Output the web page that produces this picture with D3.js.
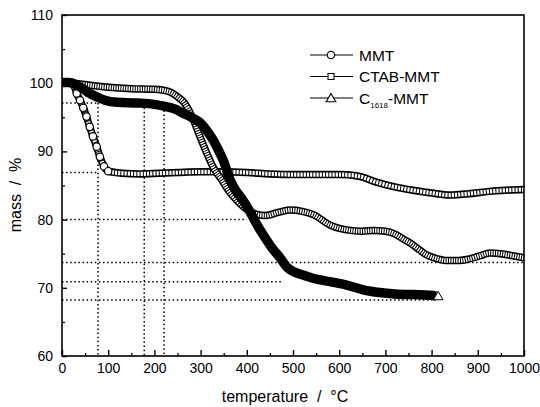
<!DOCTYPE html>
<html>
<head>
<meta charset="utf-8">
<script src="https://cdn.jsdelivr.net/npm/d3@7"></script>
<style>
  body { margin: 0; background: #fff; }
  #chart { width: 540px; height: 407px; }
  text { font-family: "Liberation Sans", Arial, sans-serif; fill: #000; }
</style>
</head>
<body>
<div id="chart"></div>
<script>
// temperature (°C) and mass (%)
const mmtTemp = [27, 32, 39, 46, 53, 60, 67, 75, 82, 91, 100, 130, 170, 210, 250, 300, 350, 400, 450, 500, 550, 600, 640, 680, 720, 760, 800, 840, 880, 920, 960, 1000];
const mmtMass = [99.6, 98.5, 97.5, 96.4, 95.1, 93.6, 92.2, 90.7, 89.2, 87.8, 87.1, 86.8, 86.7, 86.8, 86.9, 87.0, 87.0, 86.9, 86.7, 86.6, 86.6, 86.6, 86.4, 85.5, 84.8, 84.3, 83.9, 83.6, 83.8, 84.1, 84.3, 84.4];

const ctabTemp = [20, 40, 60, 100, 150, 200, 230, 250, 265, 280, 299, 313, 327, 346, 360, 380, 400, 420, 440, 470, 495, 520, 545, 580, 616, 650, 675, 700, 720, 740, 755, 775, 790, 810, 830, 860, 880, 905, 926, 950, 975, 1000];
const ctabMass = [100, 99.9, 99.7, 99.4, 99.2, 99.1, 98.8, 98.0, 97.1, 95.3, 92.1, 89.8, 87.7, 85.8, 84.3, 82.7, 81.5, 80.8, 80.6, 81.1, 81.4, 81.2, 80.7, 79.2, 78.5, 78.3, 78.4, 78.3, 77.9, 77.1, 76.5, 75.5, 74.8, 74.3, 74.0, 74.0, 74.2, 74.7, 75.1, 75.0, 74.7, 74.4];

const c1618Temp = [0, 15, 30, 45, 60, 75, 93, 120, 165, 200, 223, 245, 262, 280, 299, 313, 327, 340, 349, 364, 375, 390, 405, 420, 440, 455, 472, 486, 500, 520, 543, 580, 616, 652, 688, 720, 760, 797, 810];
const c1618Mass = [100.1, 100.1, 99.8, 99.2, 98.5, 98.0, 97.5, 97.2, 97.1, 96.9, 96.6, 96.2, 95.6, 95.0, 94.2, 93.1, 91.7, 90.0, 88.7, 85.8, 84.4, 83.0, 81.4, 79.5, 77.3, 75.8, 74.4, 73.1, 72.4, 71.9, 71.4, 70.9, 70.4, 69.7, 69.3, 69.1, 69.0, 68.9, 68.8];

// dotted guide lines: [mass, fromTemp, toTemp] and [temp, fromMass]
const guideH = [[97.1, 0, 78], [86.9, 0, 78], [80, 0, 400], [73.7, 0, 1000], [70.9, 0, 475], [68.2, 0, 800]];
const guideV = [[78, 97.1], [178, 97.0], [221, 96.6]];

const xTicks = [0, 100, 200, 300, 400, 500, 600, 700, 800, 900, 1000];
const yTicks = [60, 70, 80, 90, 100, 110];
const legendLabels = ["MMT", "CTAB-MMT", "C1618-MMT"];

function zip(t, m) { return t.map((d, i) => ({t: d, m: m[i]})); }

function renderTGA(selector) {
    const margin = {top: 15, right: 16, bottom: 51, left: 62};
    const W = 540, H = 407;
    const width = W - margin.left - margin.right;
    const height = H - margin.top - margin.bottom;

    const svg = d3.select(selector).append("svg")
        .attr("width", W)
        .attr("height", H)
        .append("g")
        .attr("transform", `translate(${margin.left}, ${margin.top})`);

    const x = d3.scaleLinear().domain([0, 1000]).range([0, width]);
    const y = d3.scaleLinear().domain([60, 110]).range([height, 0]);

    // minor ticks
    svg.append("g")
        .attr("transform", `translate(0, ${height})`)
        .call(d3.axisBottom(x).tickValues(d3.range(50, 1000, 100)).tickSize(-3).tickFormat(""))
        .call(g => g.select(".domain").remove())
        .selectAll("line").attr("stroke-width", 1.3);
    svg.append("g")
        .call(d3.axisLeft(y).tickValues(d3.range(65, 110, 10)).tickSize(-3).tickFormat(""))
        .call(g => g.select(".domain").remove())
        .selectAll("line").attr("stroke-width", 1.3);

    // major ticks
    svg.append("g")
        .attr("class", "axis axis-x")
        .attr("transform", `translate(0, ${height})`)
        .call(d3.axisBottom(x).tickValues(xTicks).tickSize(-6).tickPadding(7).tickFormat(d3.format("d")))
        .call(g => g.select(".domain").remove())
        .call(g => g.selectAll("line").attr("stroke-width", 1.4))
        .call(g => g.selectAll("text").attr("font-size", 14).attr("font-family", "Liberation Sans, Arial"));
    svg.append("g")
        .attr("class", "axis axis-y")
        .call(d3.axisLeft(y).tickValues(yTicks).tickSize(-5).tickPadding(9))
        .call(g => g.select(".domain").remove())
        .call(g => g.selectAll("line").attr("stroke-width", 1.4))
        .call(g => g.selectAll("text").attr("font-size", 14).attr("font-family", "Liberation Sans, Arial"));

    // dotted guides
    svg.selectAll(".guide-h")
        .data(guideH)
        .enter()
        .append("line")
        .attr("x1", d => x(d[1])).attr("x2", d => x(d[2]))
        .attr("y1", d => y(d[0])).attr("y2", d => y(d[0]))
        .attr("stroke", "#000").attr("stroke-width", 1.5)
        .attr("stroke-dasharray", "1.5,2.6");
    svg.selectAll(".guide-v")
        .data(guideV)
        .enter()
        .append("line")
        .attr("x1", d => x(d[0])).attr("x2", d => x(d[0]))
        .attr("y1", d => y(d[1])).attr("y2", y(60))
        .attr("stroke", "#000").attr("stroke-width", 1.5)
        .attr("stroke-dasharray", "1.5,2.6");

    const line = d3.line()
        .x(d => x(d.t))
        .y(d => y(d.m))
        .curve(d3.curveMonotoneX);

    const mmt = zip(mmtTemp, mmtMass);
    const ctab = zip(ctabTemp, ctabMass);
    const c1618 = zip(c1618Temp, c1618Mass);

    // MMT: packed open circles
    svg.append("path").datum(mmt).attr("d", line)
        .attr("fill", "none").attr("stroke", "#000").attr("stroke-width", 7.5);
    svg.append("path").datum(mmt).attr("d", line)
        .attr("fill", "none").attr("stroke", "#fff").attr("stroke-width", 4.2)
        .attr("stroke-dasharray", "2.2,1");
    svg.selectAll(".dot-mmt")
        .data(mmt.slice(0, 11))
        .enter()
        .append("circle")
        .attr("cx", d => x(d.t)).attr("cy", d => y(d.m)).attr("r", 3.7)
        .attr("fill", "#fff").attr("stroke", "#000").attr("stroke-width", 1.2);

    // CTAB-MMT: packed open squares
    svg.append("path").datum(ctab).attr("d", line)
        .attr("fill", "none").attr("stroke", "#000").attr("stroke-width", 7.5);
    svg.append("path").datum(ctab).attr("d", line)
        .attr("fill", "none").attr("stroke", "#fff").attr("stroke-width", 4.5)
        .attr("stroke-dasharray", "1.4,1");

    // C1618-MMT: triangles so dense they read as a solid band
    svg.append("path").datum(c1618).attr("d", line)
        .attr("fill", "none").attr("stroke", "#000").attr("stroke-width", 9.5);
    const tri = d3.symbol().type(d3.symbolTriangle).size(40);
    const last = c1618[c1618.length - 1];
    svg.append("path")
        .attr("d", tri())
        .attr("transform", `translate(${x(last.t) + 2}, ${y(last.m) + 1})`)
        .attr("fill", "#fff").attr("stroke", "#000").attr("stroke-width", 1);

    // frame
    svg.append("rect")
        .attr("width", width).attr("height", height)
        .attr("fill", "none").attr("stroke", "#000").attr("stroke-width", 1.6);

    // legend
    const legend = svg.append("g").attr("transform", `translate(${310 - margin.left}, ${55 - margin.top})`);
    const symbols = [
        d3.symbol().type(d3.symbolCircle).size(45),
        d3.symbol().type(d3.symbolSquare).size(36),
        d3.symbol().type(d3.symbolTriangle).size(40)
    ];
    legendLabels.forEach((lab, i) => {
        const g = legend.append("g").attr("transform", `translate(0, ${i * 21.5})`);
        g.append("line").attr("x1", 0).attr("x2", 43).attr("y1", 0).attr("y2", 0)
            .attr("stroke", "#000").attr("stroke-width", 1.1);
        g.append("path").attr("d", symbols[i]()).attr("transform", `translate(21, ${i === 2 ? 1 : 0})`)
            .attr("fill", "#fff").attr("stroke", "#000").attr("stroke-width", 1.1);
        const t = g.append("text").attr("x", 49).attr("y", 5.5).attr("font-size", 15.5);
        if (i === 2) {
            t.append("tspan").text("C");
            t.append("tspan").attr("font-size", 8).attr("dy", 4).text("1618");
            t.append("tspan").attr("dy", -4).text("-MMT");
        } else {
            t.text(lab);
        }
    });

    // axis titles
    svg.append("text")
        .attr("x", 285 - margin.left)
        .attr("y", 402 - margin.top)
        .attr("text-anchor", "middle")
        .attr("font-size", 16)
        .style("white-space", "pre")
        .text("temperature  /  °C");

    svg.append("text")
        .attr("transform", "rotate(-90)")
        .attr("x", -(195 - margin.top))
        .attr("y", 21 - margin.left)
        .attr("text-anchor", "middle")
        .attr("font-size", 16)
        .style("white-space", "pre")
        .text("mass  /  %");
}

renderTGA("#chart");
</script>
</body>
</html>
